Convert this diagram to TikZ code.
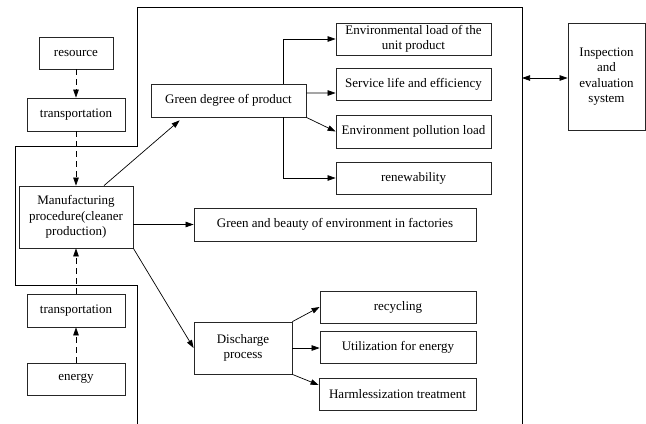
\documentclass[tikz,border=0pt]{standalone}
\usepackage{fontspec}
\setmainfont{Liberation Serif}
\newfontfamily\tnr{Liberation Serif}
\usetikzlibrary{arrows.meta,calc}
\begin{document}
\begin{tikzpicture}[x=1bp,y=-1bp,
  box/.style={draw=black!85,line width=0.8bp,inner sep=1bp,align=center,font=\tnr\fontsize{13bp}{15.6bp}\selectfont},
  arr/.style={line width=0.7bp,-{Triangle[length=8bp,width=5.5bp]}},
  darr/.style={arr,dash pattern=on 6bp off 4bp}]
\useasboundingbox (0,0) rectangle (646,423);
% frame
\draw[line width=0.8bp] (137,424) -- (137,285) -- (15,285) -- (15,146) -- (137,146) -- (137,7) -- (522,7) -- (522,424);
\coordinate (fr) at (522,78);
% left column
\node[box,minimum width=74bp,minimum height=32bp] (res) at (76,53) {resource};
\node[box,minimum width=98bp,minimum height=33bp] (tr1) at (76,114.5) {transportation};
\node[box,minimum width=114bp,minimum height=62bp] (man) at (76,217) {Manufacturing\\procedure(cleaner\\production)};
\node[box,minimum width=98bp,minimum height=33bp] (tr2) at (76,310.5) {transportation};
\node[box,minimum width=98bp,minimum height=32bp] (ene) at (76,379) {energy};
% middle
\node[box,minimum width=155bp,minimum height=33bp] (gdp) at (228.5,100.5) {Green degree of product};
\node[box,minimum width=155bp,minimum height=32bp] (env) at (413.5,39) {Environmental load of the\\unit product};
\node[box,minimum width=155bp,minimum height=32bp] (svc) at (413.5,84) {Service life and efficiency};
\node[box,minimum width=155bp,minimum height=33bp] (pol) at (413.5,131.5) {Environment pollution load};
\node[box,minimum width=155bp,minimum height=32bp] (ren) at (413.5,178) {renewability};
\node[box,minimum width=282bp,minimum height=33bp] (gbe) at (335,224.5) {Green and beauty of environment in factories};
\node[box,minimum width=98bp,minimum height=52bp] (dis) at (243,348) {Discharge\\process};
\node[box,minimum width=156bp,minimum height=32bp] (rec) at (398,307) {recycling};
\node[box,minimum width=156bp,minimum height=32bp] (uti) at (398,347) {Utilization for energy};
\node[box,minimum width=157bp,minimum height=32bp] (har) at (397.5,394) {Harmlessization treatment};
\node[box,minimum width=77bp,minimum height=107bp] (ins) at (606.5,76.5) {Inspection\\and\\evaluation\\system};
% connectors
\draw[darr] (res.south) -- (tr1.north);
\draw[darr] (tr1.south) -- (man.north);
\draw[darr] (ene.north) -- (tr2.south);
\draw[darr] (tr2.north) -- (man.south);
\draw[arr] ([xshift=28bp]man.north) -- ([xshift=29bp,yshift=-3bp]gdp.south west);
\draw[arr] (gbe.west -| man.east) -- (gbe.west);
\draw[arr] (man.south east) -- (dis.west);
\draw[arr] ([xshift=54.5bp]gdp.north) |- (env.west);
\draw[arr] ([yshift=7.5bp]gdp.east) -- ([yshift=-9bp]svc.west);
\draw[arr] (gdp.south east) -- (pol.west);
\draw[arr] ([xshift=54.5bp]gdp.south) |- (ren.west);
\draw[arr] (dis.north east) -- (rec.west);
\draw[arr] (dis.east) -- (uti.west |- dis.east);
\draw[arr] (dis.south east) -- ([yshift=9bp]har.west);
\draw[line width=0.7bp,{Triangle[length=8bp,width=5.5bp]}-{Triangle[length=8bp,width=5.5bp]}] (fr) -- (ins.west |- fr);
\end{tikzpicture}
\end{document}
